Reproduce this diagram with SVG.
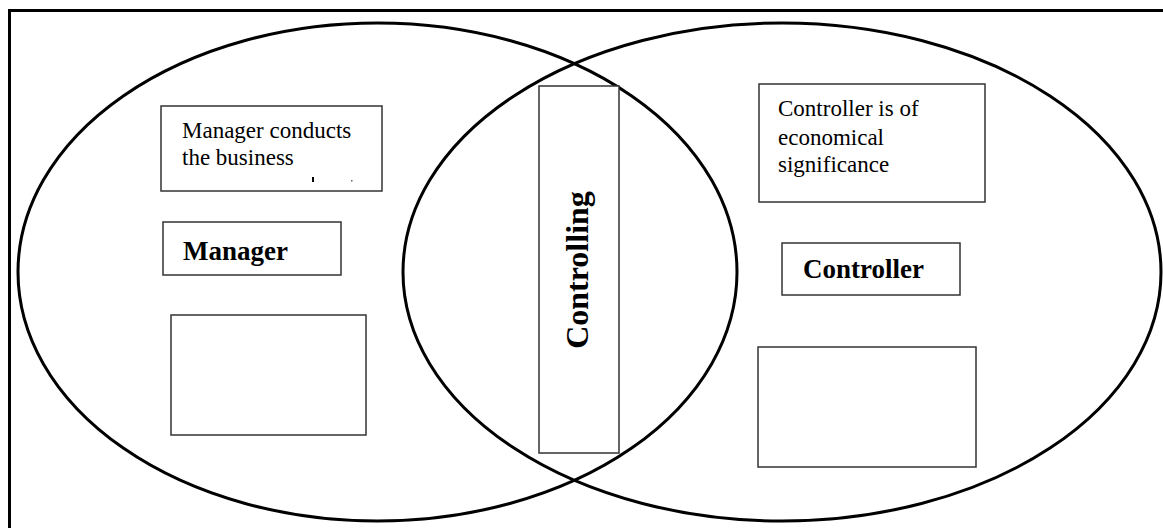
<svg xmlns="http://www.w3.org/2000/svg" width="1163" height="528" viewBox="0 0 1163 528">
<style>
.frame{fill:none;stroke:#000;stroke-width:3}
.ell{fill:none;stroke:#000;stroke-width:3}
.box{fill:#fff;stroke:#333;stroke-width:1.5}
.t{font-family:"Liberation Serif","Times New Roman",serif;font-size:23px;fill:#000}
.b{font-family:"Liberation Serif","Times New Roman",serif;font-size:27px;font-weight:bold;fill:#000}
</style>
<rect width="1163" height="528" fill="#fff"/>
<path class="frame" d="M9.5,530 V10.5 H1166"/>
<g id="circles">
<ellipse id="left-circle" class="ell" cx="377.5" cy="272" rx="359.5" ry="249"/>
<ellipse id="right-circle" class="ell" cx="782" cy="272" rx="379" ry="249"/>
</g>
<g id="manager-note">
<rect class="box" x="161" y="106" width="221" height="85"/>
<text class="t" x="182" y="138">Manager conducts</text>
<text class="t" x="182" y="165">the business</text>
<rect x="312" y="177" width="2" height="5" fill="#000"/>
<rect x="351" y="180" width="1.5" height="1.5" fill="#666"/>
</g>
<g id="manager">
<rect class="box" x="163" y="222" width="178" height="53"/>
<text class="b" x="183" y="260">Manager</text>
</g>
<g id="left-empty">
<rect class="box" x="171" y="315" width="195" height="120"/>
</g>
<g id="controlling">
<rect class="box" x="539" y="86" width="80" height="367"/>
<text class="b" transform="translate(588,270) rotate(-90)" x="0" y="0" text-anchor="middle" style="font-size:32px">Controlling</text>
</g>
<g id="controller-note">
<rect class="box" x="759" y="84" width="226" height="118"/>
<text class="t" x="778" y="116">Controller is of</text>
<text class="t" x="778" y="145">economical</text>
<text class="t" x="778" y="172">significance</text>
</g>
<g id="controller">
<rect class="box" x="782" y="243" width="178" height="52"/>
<text class="b" x="803" y="278">Controller</text>
</g>
<g id="right-empty">
<rect class="box" x="758" y="347" width="218" height="120"/>
</g>
<g id="connectors"></g>
</svg>
